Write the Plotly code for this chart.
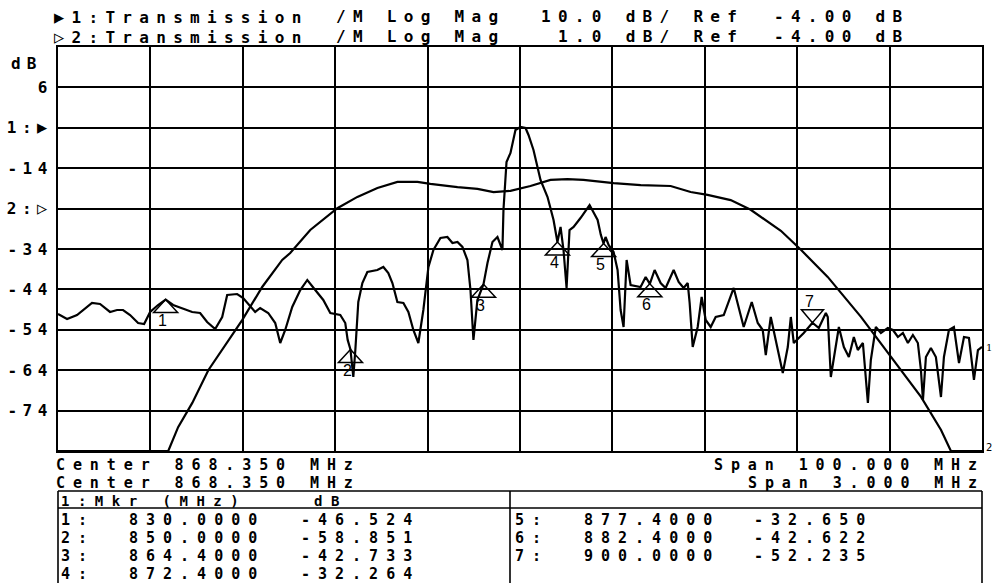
import plotly.graph_objects as go

# ---------------- instrument settings ----------------
center_mhz = 868.350
span1_mhz = 100.0
span2_mhz = 3.0
scale1_db = 10.0
scale2_db = 1.0
ref_db = -4.00
ref_pos1_div = 8      # reference line position of trace 1 (divisions from bottom)
ref_pos2_div = 6      # reference line position of trace 2
n_div = 10

# ---------------- trace 1 : wide span (100 MHz), 10 dB/div ----------------
trace1_freq_mhz = [
    818.35, 819.33, 820.41, 822.03, 822.90, 823.98, 824.74, 825.39, 826.15, 827.02,
    827.67, 828.32, 829.18, 830.00, 830.81, 831.78, 832.87, 833.73, 834.49, 835.36,
    836.12, 836.66, 837.74, 838.39, 839.69, 840.23, 841.10, 841.86, 842.40, 842.94,
    843.70, 844.57, 845.33, 846.19, 847.06, 847.82, 848.90, 849.44, 849.70, 850.00,
    850.31, 850.53, 850.85, 851.29, 851.83, 852.91, 853.56, 854.10, 854.54, 855.08,
    855.73, 856.27, 856.81, 857.35, 857.89, 858.44, 858.98, 859.74, 860.49, 861.04,
    861.58, 862.12, 862.66, 862.99, 863.31, 863.74, 864.40, 864.83, 865.37, 865.91,
    866.45, 866.56, 866.89, 867.32, 867.86, 868.40, 868.95, 869.27, 869.81, 870.57,
    871.33, 871.98, 872.40, 872.74, 873.06, 873.39, 873.71, 874.15, 874.90, 875.88,
    876.75, 877.10, 877.40, 877.61, 877.94, 878.48, 878.91, 879.24, 879.56, 879.89,
    880.32, 881.40, 881.95, 882.40, 882.92, 883.57, 884.11, 884.98, 885.52, 886.06,
    886.50, 886.71, 887.04, 887.58, 888.01, 888.45, 888.99, 889.53, 890.40, 891.48,
    892.56, 893.43, 894.08, 894.62, 894.95, 895.49, 896.03, 896.79, 897.33, 897.66,
    897.98, 899.06, 900.00, 900.69, 901.45, 901.66, 901.99, 902.86, 903.40, 903.94,
    904.48, 904.91, 905.46, 905.67, 906.00, 906.32, 906.86, 907.41, 908.16, 908.71,
    909.25, 909.79, 910.33, 910.87, 911.41, 911.74, 911.96, 912.28, 912.82, 913.36,
    913.91, 914.23, 914.77, 915.31, 915.86, 916.40, 916.94, 917.48, 917.91, 918.35,
]
trace1_db = [
    -50.09, -51.33, -50.34, -47.37, -47.61, -49.59, -49.10, -49.10, -50.34, -52.32,
    -52.56, -49.59, -47.86, -46.52, -47.86, -48.60, -49.59, -49.84, -52.07, -53.80,
    -50.83, -45.39, -45.14, -46.13, -49.59, -48.60, -49.84, -52.32, -57.27, -54.05,
    -48.36, -44.15, -41.67, -44.15, -46.62, -49.84, -50.34, -52.32, -56.50, -58.85,
    -65.68, -59.00, -47.12, -42.42, -39.69, -39.20, -38.45, -39.94, -42.42, -47.12,
    -47.37, -49.59, -54.05, -57.27, -49.10, -38.45, -34.25, -31.28, -31.03, -32.51,
    -32.27, -33.50, -36.72, -44.15, -56.52, -46.62, -42.73, -37.47, -32.27, -31.03,
    -34.25, -24.35, -12.47, -10.24, -4.54, -3.80, -4.05, -5.78, -9.50, -16.92,
    -21.13, -26.82, -32.26, -28.55, -34.25, -43.65, -29.30, -28.55, -26.33, -23.11,
    -26.82, -30.50, -32.65, -31.03, -33.01, -34.74, -39.20, -49.10, -53.31, -36.72,
    -42.91, -43.41, -40.93, -42.62, -39.20, -42.42, -43.65, -39.20, -42.17, -43.65,
    -42.42, -47.37, -58.26, -53.31, -45.88, -51.57, -53.31, -50.83, -50.34, -43.65,
    -53.31, -47.12, -52.32, -54.05, -60.24, -50.83, -56.52, -64.69, -58.26, -50.83,
    -57.27, -54.79, -52.24, -53.55, -49.84, -50.83, -65.68, -53.31, -58.26, -60.73,
    -55.78, -59.00, -57.27, -63.95, -72.12, -61.47, -53.31, -54.79, -53.55, -54.05,
    -55.78, -54.79, -57.27, -55.29, -57.27, -63.95, -71.38, -60.73, -58.50, -60.73,
    -70.63, -60.73, -54.05, -53.31, -62.22, -55.78, -56.03, -66.42, -59.00, -58.26,
]

# ---------------- trace 2 : narrow span (3 MHz), 1 dB/div ----------------
trace2_freq_mhz = [
    866.850, 867.208, 867.240, 867.286, 867.338, 867.383, 867.448, 867.513, 867.578,
    867.604, 867.669, 867.757, 867.822, 867.887, 867.952, 868.017, 868.059, 868.147,
    868.212, 868.264, 868.319, 868.384, 868.449, 868.504, 868.556, 868.654, 868.742,
    868.839, 868.904, 868.959, 869.034, 869.099, 869.141, 869.197, 869.262, 869.349,
    869.457, 869.564, 869.652, 869.717, 869.749, 869.850,
]
trace2_db = [
    -10.00, -10.00, -9.41, -8.81, -8.00, -7.50, -6.76, -5.94, -5.27,
    -5.10, -4.53, -3.99, -3.71, -3.49, -3.34, -3.34, -3.39, -3.47,
    -3.51, -3.59, -3.56, -3.44, -3.29, -3.27, -3.29, -3.37, -3.42,
    -3.44, -3.59, -3.66, -3.79, -4.03, -4.26, -4.55, -5.02, -5.69,
    -6.68, -7.75, -8.66, -9.48, -10.00, -10.00,
]

# ---------------- markers (on trace 1) ----------------
marker_ids = [1, 2, 3, 4, 5, 6, 7]
marker_freq_mhz = [830.0, 850.0, 864.4, 872.4, 877.4, 882.4, 900.0]
marker_db = [-46.524, -58.851, -42.733, -32.264, -32.650, -42.622, -52.235]

# ---------------- derived ranges ----------------
x1_lo, x1_hi = center_mhz - span1_mhz / 2, center_mhz + span1_mhz / 2
x2_lo, x2_hi = center_mhz - span2_mhz / 2, center_mhz + span2_mhz / 2
y1_lo = ref_db - ref_pos1_div * scale1_db
y1_hi = y1_lo + n_div * scale1_db
y2_lo = ref_db - ref_pos2_div * scale2_db
y2_hi = y2_lo + n_div * scale2_db

SYM1 = '<span style="font-size:17px">\u25B6</span>'
SYM2 = '<span style="font-size:17px">\u25B7</span>'

x_grid = [x1_lo + i * span1_mhz / n_div for i in range(1, n_div)]
y_grid = [y1_lo + i * scale1_db for i in range(1, n_div)]
y_grid_text = []
for v in y_grid:
    if abs(v - ref_db) < 1e-9:
        y_grid_text.append("1:" + SYM1)
    elif abs(v - (y1_lo + ref_pos2_div * scale1_db)) < 1e-9:
        y_grid_text.append("2:" + SYM2)
    else:
        y_grid_text.append(f"{v:g}")

# ---------------- layout geometry ----------------
W, H = 992, 583
L, R, T, B = 58, 10, 47, 132
PW, PH = W - L - R, H - T - B
FONT = "DejaVu Sans Mono"
INK = "black"
FS = 16
LS = 7.3


def px(xp):
    return (xp - L) / PW


def py(yp):
    return (H - B - yp) / PH


def sp(s, ls):
    return f'<span style="letter-spacing:{ls}px">{s}</span>'


annotations = []


def txt(s, xpix, ypix, size=FS, ls=LS, anchor="left", weight="bold"):
    annotations.append(dict(
        text=sp(s, ls), xref="paper", yref="paper", x=px(xpix), y=py(ypix),
        xanchor=anchor, yanchor="middle", showarrow=False, borderpad=0,
        font=dict(family=FONT, size=size, color=INK, weight=weight),
    ))


fig = go.Figure()
fig.add_trace(go.Scatter(
    x=trace1_freq_mhz, y=trace1_db, mode="lines",
    line=dict(color=INK, width=2.2), xaxis="x", yaxis="y", showlegend=False,
))
fig.add_trace(go.Scatter(
    x=trace2_freq_mhz, y=trace2_db, mode="lines",
    line=dict(color=INK, width=2.2), xaxis="x2", yaxis="y2", showlegend=False,
))

# header
txt(SYM1 + "1:Transmission", 53, 16.5)
txt("/M Log Mag", 335, 16.5)
txt(f"{scale1_db:.1f} dB/ Ref", 540, 16.5)
txt(f"{ref_db:.2f} dB", 773, 16.5)
txt(SYM2 + "2:Transmission", 53, 37)
txt("/M Log Mag", 335, 37)
txt(f"{scale2_db:.1f} dB/ Ref", 557, 37)
txt(f"{ref_db:.2f} dB", 773, 37)

# y unit
txt("dB", 10, 63, ls=6)

# footer
txt(f"Center {center_mhz:.3f} MHz", 55, 465, size=15, ls=7.9)
txt(f"Center {center_mhz:.3f} MHz", 55, 483, size=15, ls=7.9)
txt(f"Span {span1_mhz:.3f} MHz", 713, 465, size=15, ls=7.9)
txt(f"Span {span2_mhz:.3f} MHz", 747, 483, size=15, ls=7.9)

# marker table
txt("1:Mkr (MHz)", 60, 501, size=14, ls=8.5)
txt("dB", 313, 501, size=14, ls=8.5)
row_y = [520, 538, 556, 574]
for i, (mid, f, v) in enumerate(zip(marker_ids, marker_freq_mhz, marker_db)):
    if i < 4:
        y0 = row_y[i]
        txt(f"{mid}:", 60, y0, size=15, ls=8)
        txt(f"{f:.4f}", 128, y0, size=15, ls=8)
        txt(f"{v:.3f}", 300, y0, size=15, ls=8)
    else:
        y0 = row_y[i - 4]
        txt(f"{mid}:", 514, y0, size=15, ls=8)
        txt(f"{f:.4f}", 583, y0, size=15, ls=8)
        txt(f"{v:.3f}", 753, y0, size=15, ls=8)

shapes = []
# table frame
for (xa, ya, xb, yb) in [(L, 491, W - R, 491), (L, 508, W - R, 508),
                         (L, 491, L, H + 5), (510, 491, 510, H + 5),
                         (W - R, 491, W - R, H + 5)]:
    shapes.append(dict(type="line", xref="paper", yref="paper",
                       x0=px(xa), y0=py(ya), x1=px(xb), y1=py(yb),
                       line=dict(color=INK, width=1.6)))

# marker triangles + labels
for mid, f, v in zip(marker_ids, marker_freq_mhz, marker_db):
    if mid == 7:
        path = "M0,0 L-11,13 L11,13 Z"
        lab_shift = 21
    else:
        path = "M0,0 L-12,-13 L12,-13 Z"
        lab_shift = -21
    shapes.append(dict(type="path", xref="x", yref="y",
                       xsizemode="pixel", ysizemode="pixel",
                       xanchor=f, yanchor=v, path=path,
                       line=dict(color=INK, width=1.5), fillcolor="rgba(0,0,0,0)"))
    annotations.append(dict(text=str(mid), x=f, y=v, xref="x", yref="y",
                            xshift=-3, yshift=lab_shift, showarrow=False,
                            font=dict(family="Liberation Sans", size=16, color=INK)))

# trace end tags
annotations.append(dict(text="1", x=trace1_freq_mhz[-1], y=trace1_db[-1], xref="x", yref="y",
                        xanchor="left", xshift=2, showarrow=False,
                        font=dict(family="DejaVu Serif", size=10, color=INK)))
annotations.append(dict(text="2", x=trace2_freq_mhz[-1], y=trace2_db[-1], xref="x2", yref="y2",
                        xanchor="left", xshift=2, yshift=4, showarrow=False,
                        font=dict(family="DejaVu Sans", size=10, color=INK)))

fig.update_layout(
    width=W, height=H, margin=dict(l=L, r=R, t=T, b=B, pad=0),
    paper_bgcolor="white", plot_bgcolor="white",
    xaxis=dict(range=[x1_lo, x1_hi], tickvals=x_grid, showticklabels=False,
               showgrid=True, gridcolor=INK, gridwidth=1.6, zeroline=False,
               showline=True, mirror=True, linecolor=INK, linewidth=2, ticks="",
               automargin=False),
    yaxis=dict(range=[y1_lo, y1_hi], tickvals=y_grid,
               ticktext=[sp(t, 5.5) for t in y_grid_text],
               tickfont=dict(family=FONT, size=16, color=INK, weight="bold"),
               showgrid=True, gridcolor=INK, gridwidth=1.6, zeroline=False,
               showline=True, mirror=True, linecolor=INK, linewidth=2, ticks="",
               ticklabelstandoff=0, automargin=False),
    xaxis2=dict(range=[x2_lo, x2_hi], overlaying="x", visible=False),
    yaxis2=dict(range=[y2_lo, y2_hi], overlaying="y", visible=False),
    annotations=annotations, shapes=shapes, showlegend=False,
)

fig.write_html("out.html", config={"displayModeBar": False},
               post_script="document.body.style.margin='0';")
